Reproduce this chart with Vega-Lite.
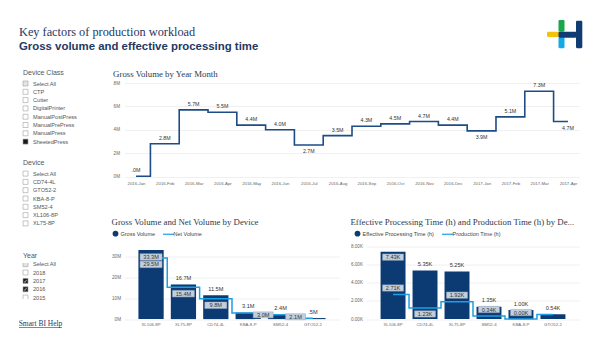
{
  "$schema": "https://vega.github.io/schema/vega-lite/v6.json",
  "background": "white",
  "padding": {"left": 18, "top": 20, "right": 0, "bottom": 0},
  "autosize": {"type": "pad"},
  "bounds": "flush",
  "spacing": 105.5,
  "config": {
    "view": {"stroke": null},
    "font": "Liberation Sans",
    "axis": {"domain": false, "ticks": false, "labelFont": "Liberation Sans", "labelColor": "#666", "gridColor": "#ececec", "gridWidth": 0.8},
    "axisX": {"labelAngle": 0, "grid": false},
    "title": {"anchor": "start", "font": "Liberation Serif", "fontSize": 8.8, "fontWeight": "normal", "color": "#2d3b4e", "frame": "bounds", "offset": 0}
  },
  "hconcat": [
    {
      "bounds": "flush",
      "spacing": 55.35,
      "vconcat": [
        {
          "width": 1, "height": 4,
          "data": {"values": []},
          "mark": "point",
          "title": {"text": "Key factors of production workload", "subtitle": "Gross volume and effective processing time", "orient": "bottom", "anchor": "start", "offset": 2, "font": "Liberation Serif", "fontSize": 12.3, "fontWeight": "normal", "color": "#1f3864", "subtitleFont": "Liberation Sans", "subtitleFontSize": 11.4, "subtitleFontWeight": "bold", "subtitleColor": "#1f3864", "subtitlePadding": 2.5}
        },
        {
          "bounds": "flush",
          "spacing": 23.1,
          "vconcat": [
            {
              "width": 13, "height": {"step": 8.3},
              "title": {"text": "Device Class", "anchor": "start", "dx": 4, "offset": 3, "font": "Liberation Sans", "fontSize": 7, "color": "#555"},
              "data": {"values": [
                {"item": "Select All", "state": "partial"},
                {"item": "CTP", "state": "none"},
                {"item": "Cutter", "state": "none"},
                {"item": "DigitalPrinter", "state": "none"},
                {"item": "ManualPostPress", "state": "none"},
                {"item": "ManualPrePress", "state": "none"},
                {"item": "ManualPress", "state": "none"},
                {"item": "SheetedPress", "state": "checked"}
              ]},
              "encoding": {"y": {"field": "item", "type": "nominal", "sort": null, "axis": null}},
              "layer": [
                {"mark": {"type": "point", "shape": "square", "size": 25, "filled": true, "stroke": "#a0a0a0", "strokeWidth": 0.6, "opacity": 1},
                 "encoding": {"fill": {"field": "state", "type": "nominal", "scale": {"domain": ["checked", "partial", "none"], "range": ["#1a1a1a", "#e4e4e4", "#ffffff"]}, "legend": null}}},
                {"mark": {"type": "text", "align": "left", "dx": 7.5, "fontSize": 5.6, "color": "#555", "font": "Liberation Sans"},
                 "encoding": {"text": {"field": "item"}}}
              ]
            },
            {
              "bounds": "flush",
              "spacing": 34.45,
              "vconcat": [
                {
                  "width": 13, "height": {"step": 8.3},
                  "title": {"text": "Device", "anchor": "start", "dx": 4, "offset": 3, "font": "Liberation Sans", "fontSize": 7, "color": "#555"},
                  "data": {"values": [
                    {"item": "Select All", "state": "none"},
                    {"item": "CD74-4L", "state": "none"},
                    {"item": "GTO52-2", "state": "none"},
                    {"item": "KBA-8-P", "state": "none"},
                    {"item": "SM52-4", "state": "none"},
                    {"item": "XL106-8P", "state": "none"},
                    {"item": "XL75-8P", "state": "none"}
                  ]},
                  "encoding": {"y": {"field": "item", "type": "nominal", "sort": null, "axis": null}},
                  "layer": [
                    {"mark": {"type": "point", "shape": "square", "size": 25, "filled": true, "stroke": "#a0a0a0", "strokeWidth": 0.6, "opacity": 1},
                     "encoding": {"fill": {"field": "state", "type": "nominal", "scale": {"domain": ["checked", "partial", "none"], "range": ["#1a1a1a", "#e4e4e4", "#ffffff"]}, "legend": null}}},
                    {"mark": {"type": "text", "align": "left", "dx": 7.5, "fontSize": 5.6, "color": "#555", "font": "Liberation Sans"},
                     "encoding": {"text": {"field": "item"}}}
                  ]
                },
                {
                  "bounds": "flush",
                  "spacing": 20.6,
                  "vconcat": [
                    {
                      "width": 13, "height": 36,
                      "title": {"text": "Year", "anchor": "start", "dx": 4, "offset": 3, "font": "Liberation Sans", "fontSize": 7, "color": "#555"},
                      "data": {"values": [
                        {"item": "Select All", "state": "partial"},
                        {"item": "2018", "state": "none"},
                        {"item": "2017", "state": "checked"},
                        {"item": "2016", "state": "checked"},
                        {"item": "2015", "state": "none"}
                      ]},
                      "encoding": {"y": {"field": "item", "type": "nominal", "sort": null, "axis": null, "scale": {"padding": 0.15}}},
                      "layer": [
                        {"mark": {"type": "point", "shape": "square", "size": 25, "filled": true, "stroke": "#a0a0a0", "strokeWidth": 0.6, "opacity": 1, "clip": true},
                         "encoding": {"fill": {"field": "state", "type": "nominal", "scale": {"domain": ["checked", "partial", "none"], "range": ["#1a1a1a", "#e4e4e4", "#ffffff"]}, "legend": null}}},
                        {"transform": [{"filter": "datum.state === 'checked'"}],
                         "mark": {"type": "text", "text": "✓", "color": "white", "fontSize": 5, "font": "DejaVu Sans", "fontWeight": "bold"}},
                        {"mark": {"type": "text", "align": "left", "dx": 7.5, "fontSize": 5.6, "color": "#555", "font": "Liberation Sans"},
                         "encoding": {"text": {"field": "item"}}}
                      ]
                    },
                    {
                      "width": 43, "height": 8,
                      "data": {"values": [{"link": "Smart BI Help"}]},
                      "layer": [
                        {"mark": {"type": "text", "font": "Liberation Serif", "fontSize": 7.5, "color": "#1f3864"},
                         "encoding": {"text": {"field": "link"}}},
                        {"mark": {"type": "rule", "color": "#1f3864", "strokeWidth": 0.6},
                         "encoding": {"y": {"datum": 0, "type": "quantitative", "scale": {"domain": [0, 1]}, "axis": null}}}
                      ]
                    }
                  ]
                }
              ]
            }
          ]
        }
      ]
    },
    {
      "bounds": "flush",
      "spacing": 63,
      "vconcat": [
        {
          "bounds": "flush",
          "spacing": 5,
          "hconcat": [
            {"width": 417, "height": 28.3, "data": {"values": []}, "mark": "point"},
            {
              "width": 36, "height": 28.3,
              "data": {"values": [
                {"part": "yellow", "x0": 0.5, "x1": 13, "y0": 11.7, "y1": 17},
                {"part": "green", "x0": 12, "x1": 18, "y0": 0, "y1": 11.7},
                {"part": "sky", "x0": 12, "x1": 18, "y0": 17, "y1": 28.3},
                {"part": "navy", "x0": 12, "x1": 30, "y0": 11.7, "y1": 17.7},
                {"part": "navy", "x0": 29.5, "x1": 35.8, "y0": 0.7, "y1": 28.3}
              ]},
              "mark": {"type": "rect", "cornerRadius": 1.2},
              "encoding": {
                "x": {"field": "x0", "type": "quantitative", "scale": {"domain": [0, 36]}, "axis": null},
                "x2": {"field": "x1"},
                "y": {"field": "y0", "type": "quantitative", "scale": {"domain": [0, 28.3], "reverse": true}, "axis": null},
                "y2": {"field": "y1"},
                "color": {"field": "part", "type": "nominal", "scale": {"domain": ["yellow", "green", "sky", "navy"], "range": ["#f4c20d", "#1aa64a", "#16a9e6", "#0f3d73"]}, "legend": null}
              }
            }
          ]
        },
        {
          "bounds": "flush",
          "spacing": 69.5,
          "vconcat": [
            {
              "width": 455, "height": 93.5,
              "title": {"text": "Gross Volume by Year Month", "offset": 1},
              "data": {"values": [
                {"month": "2016-Jan", "gross_volume_m": 0.02},
                {"month": "2016-Feb", "gross_volume_m": 2.8},
                {"month": "2016-Mar", "gross_volume_m": 5.7},
                {"month": "2016-Apr", "gross_volume_m": 5.5},
                {"month": "2016-May", "gross_volume_m": 4.4},
                {"month": "2016-Jun", "gross_volume_m": 4.0},
                {"month": "2016-Jul", "gross_volume_m": 2.7},
                {"month": "2016-Aug", "gross_volume_m": 3.5},
                {"month": "2016-Sep", "gross_volume_m": 4.3},
                {"month": "2016-Oct", "gross_volume_m": 4.5},
                {"month": "2016-Nov", "gross_volume_m": 4.7},
                {"month": "2016-Dec", "gross_volume_m": 4.4},
                {"month": "2017-Jan", "gross_volume_m": 3.9},
                {"month": "2017-Feb", "gross_volume_m": 5.1},
                {"month": "2017-Mar", "gross_volume_m": 7.3},
                {"month": "2017-Apr", "gross_volume_m": 4.7}
              ]},
              "transform": [
                {"calculate": "(datum.gross_volume_m < 1 ? replace(format(datum.gross_volume_m, '.1f'), '0.', '.') : format(datum.gross_volume_m, '.1f')) + 'M'", "as": "label"}
              ],
              "encoding": {
                "x": {"field": "month", "type": "ordinal", "sort": null, "scale": {"type": "point", "padding": 0.4}, "axis": {"labelFontSize": 4.3, "labelPadding": 5, "title": null}},
                "y": {"field": "gross_volume_m", "type": "quantitative", "scale": {"domain": [0, 8]}, "axis": {"values": [0, 2, 4, 6, 8], "labelExpr": "datum.value + 'M'", "grid": true, "title": null, "labelFontSize": 4.6, "labelPadding": 5}}
              },
              "layer": [
                {"mark": {"type": "line", "interpolate": "step", "color": "#1d4c86", "strokeWidth": 1.6}},
                {"transform": [{"filter": "indexof(['2016-Jul', '2017-Jan', '2017-Apr'], datum.month) < 0"}],
                 "mark": {"type": "text", "dy": -6, "fontSize": 5.3, "color": "#333", "font": "Liberation Sans"},
                 "encoding": {"text": {"field": "label"}}},
                {"transform": [{"filter": "indexof(['2016-Jul', '2017-Jan', '2017-Apr'], datum.month) >= 0"}],
                 "mark": {"type": "text", "dy": 6.5, "fontSize": 5.3, "color": "#333", "font": "Liberation Sans"},
                 "encoding": {"text": {"field": "label"}}}
              ]
            },
            {
              "bounds": "flush",
              "spacing": 27,
              "resolve": {"scale": {"color": "independent"}},
              "hconcat": [
                {
                  "width": 215, "height": 72.6,
                  "title": {"text": "Gross Volume and Net Volume by Device", "offset": 4},
                  "data": {"values": [
                    {"device": "XL106-8P", "gross_volume_m": 33.3, "net_volume_m": 29.5},
                    {"device": "XL75-8P", "gross_volume_m": 16.7, "net_volume_m": 15.4},
                    {"device": "CD74-4L", "gross_volume_m": 11.5, "net_volume_m": 9.8},
                    {"device": "KBA-8-P", "gross_volume_m": 3.1, "net_volume_m": 3.0},
                    {"device": "SM52-4", "gross_volume_m": 2.4, "net_volume_m": 2.1},
                    {"device": "GTO52-2", "gross_volume_m": 0.5, "net_volume_m": 0.45}
                  ]},
                  "transform": [
                    {"calculate": "(datum.gross_volume_m < 1 ? replace(format(datum.gross_volume_m, '.1f'), '0.', '.') : format(datum.gross_volume_m, '.1f')) + 'M'", "as": "gross_label"},
                    {"calculate": "format(datum.net_volume_m, '.1f') + 'M'", "as": "net_label"}
                  ],
                  "encoding": {
                    "x": {"field": "device", "type": "nominal", "sort": null, "scale": {"paddingInner": 0.22, "paddingOuter": 0.43}, "axis": {"labelFontSize": 4.3, "labelPadding": 3.5, "title": null}}
                  },
                  "layer": [
                    {"mark": {"type": "bar"},
                     "encoding": {
                       "y": {"field": "gross_volume_m", "type": "quantitative", "scale": {"domain": [0, 35]}, "title": null, "axis": {"values": [0, 10, 20, 30], "labelExpr": "datum.value + 'M'", "grid": true, "title": null, "labelFontSize": 4.6, "labelPadding": 4}},
                       "color": {"datum": "Gross Volume", "type": "nominal", "scale": {"domain": ["Gross Volume", "Net Volume"], "range": ["#0c3a73", "#1c9fe3"]},
                         "legend": {"title": null, "orient": "none", "legendX": -12, "legendY": -16, "direction": "horizontal", "labelFontSize": 5.5, "labelColor": "#444", "labelFont": "Liberation Sans", "symbolSize": 121, "labelOffset": 2, "columnPadding": 5, "padding": 0,
                           "encode": {"symbols": {"update": {
                             "shape": {"signal": "datum.value === 'Net Volume' ? 'stroke' : 'circle'"},
                             "size": {"signal": "datum.value === 'Net Volume' ? 121 : 22"},
                             "fill": {"signal": "datum.value === 'Net Volume' ? 'transparent' : '#0c3a73'"},
                             "stroke": {"signal": "datum.value === 'Net Volume' ? '#1c9fe3' : 'transparent'"},
                             "strokeWidth": {"value": 1.2}
                           }}}}}
                     }},
                    {"mark": {"type": "line", "interpolate": "step", "strokeWidth": 1.5},
                     "encoding": {"y": {"field": "net_volume_m", "type": "quantitative", "title": null, "axis": {"values": [0, 10, 20, 30], "labelExpr": "datum.value + 'M'", "grid": true, "title": null, "labelFontSize": 4.6, "labelPadding": 4}}, "color": {"datum": "Net Volume", "type": "nominal"}}},
                    {"transform": [{"filter": "datum.device !== 'XL106-8P'"}],
                     "mark": {"type": "text", "dy": -6.5, "fontSize": 5.6, "color": "#333", "font": "Liberation Sans"},
                     "encoding": {"y": {"field": "gross_volume_m", "type": "quantitative", "title": null, "axis": {"values": [0, 10, 20, 30], "labelExpr": "datum.value + 'M'", "grid": true, "title": null, "labelFontSize": 4.6, "labelPadding": 4}}, "text": {"field": "gross_label"}}},
                    {"transform": [{"filter": "datum.device === 'XL106-8P'"}],
                     "mark": {"type": "point", "shape": "M-1,-0.3H1V0.3H-1Z", "size": 484, "filled": true, "fill": "#c3cfdd", "stroke": "#8fa3bb", "strokeWidth": 0.5, "opacity": 1, "yOffset": 7},
                     "encoding": {"y": {"field": "gross_volume_m", "type": "quantitative", "title": null, "axis": {"values": [0, 10, 20, 30], "labelExpr": "datum.value + 'M'", "grid": true, "title": null, "labelFontSize": 4.6, "labelPadding": 4}}}},
                    {"transform": [{"filter": "datum.device === 'XL106-8P'"}],
                     "mark": {"type": "text", "dy": 7, "fontSize": 5.6, "color": "#333", "font": "Liberation Sans"},
                     "encoding": {"y": {"field": "gross_volume_m", "type": "quantitative", "title": null, "axis": {"values": [0, 10, 20, 30], "labelExpr": "datum.value + 'M'", "grid": true, "title": null, "labelFontSize": 4.6, "labelPadding": 4}}, "text": {"field": "gross_label"}}},
                    {"transform": [{"filter": "datum.net_volume_m >= 5"}],
                     "mark": {"type": "point", "shape": "M-1,-0.3H1V0.3H-1Z", "size": 484, "filled": true, "fill": "#c3cfdd", "stroke": "#8fa3bb", "strokeWidth": 0.5, "opacity": 1, "yOffset": 6.5},
                     "encoding": {"y": {"field": "net_volume_m", "type": "quantitative", "title": null, "axis": {"values": [0, 10, 20, 30], "labelExpr": "datum.value + 'M'", "grid": true, "title": null, "labelFontSize": 4.6, "labelPadding": 4}}}},
                    {"transform": [{"filter": "datum.net_volume_m >= 5"}],
                     "mark": {"type": "text", "dy": 6.5, "fontSize": 5.6, "color": "#333", "font": "Liberation Sans"},
                     "encoding": {"y": {"field": "net_volume_m", "type": "quantitative", "title": null, "axis": {"values": [0, 10, 20, 30], "labelExpr": "datum.value + 'M'", "grid": true, "title": null, "labelFontSize": 4.6, "labelPadding": 4}}, "text": {"field": "net_label"}}},
                    {"transform": [{"filter": "datum.net_volume_m >= 1 && datum.net_volume_m < 5"}],
                     "mark": {"type": "point", "shape": "M-1,-0.3H1V0.3H-1Z", "size": 400, "filled": true, "fill": "#c3cfdd", "stroke": "#8fa3bb", "strokeWidth": 0.5, "opacity": 1, "yOffset": 2, "xOffset": 15},
                     "encoding": {"y": {"field": "net_volume_m", "type": "quantitative", "title": null, "axis": {"values": [0, 10, 20, 30], "labelExpr": "datum.value + 'M'", "grid": true, "title": null, "labelFontSize": 4.6, "labelPadding": 4}}}},
                    {"transform": [{"filter": "datum.net_volume_m >= 1 && datum.net_volume_m < 5"}],
                     "mark": {"type": "text", "dy": 2, "dx": 15, "fontSize": 5.6, "color": "#333", "font": "Liberation Sans"},
                     "encoding": {"y": {"field": "net_volume_m", "type": "quantitative", "title": null, "axis": {"values": [0, 10, 20, 30], "labelExpr": "datum.value + 'M'", "grid": true, "title": null, "labelFontSize": 4.6, "labelPadding": 4}}, "text": {"field": "net_label"}}}
                  ]
                },
                {
                  "width": 213, "height": 72.6,
                  "title": {"text": "Effective Processing Time (h) and Production Time (h) by De...", "offset": 4},
                  "data": {"values": [
                    {"device": "XL106-8P", "effective_processing_time_kh": 7.43, "production_time_kh": 2.71},
                    {"device": "CD74-4L", "effective_processing_time_kh": 5.35, "production_time_kh": 1.23},
                    {"device": "XL75-8P", "effective_processing_time_kh": 5.25, "production_time_kh": 1.92},
                    {"device": "SM52-4", "effective_processing_time_kh": 1.35, "production_time_kh": 0.34},
                    {"device": "KBA-8-P", "effective_processing_time_kh": 1.00, "production_time_kh": 0.00},
                    {"device": "GTO52-2", "effective_processing_time_kh": 0.54, "production_time_kh": 0.50}
                  ]},
                  "transform": [
                    {"calculate": "format(datum.effective_processing_time_kh, '.2f') + 'K'", "as": "eff_label"},
                    {"calculate": "format(datum.production_time_kh, '.2f') + 'K'", "as": "prod_label"}
                  ],
                  "encoding": {
                    "x": {"field": "device", "type": "nominal", "sort": null, "scale": {"paddingInner": 0.22, "paddingOuter": 0.44}, "axis": {"labelFontSize": 4.3, "labelPadding": 3.5, "title": null}}
                  },
                  "layer": [
                    {"mark": {"type": "bar"},
                     "encoding": {
                       "y": {"field": "effective_processing_time_kh", "type": "quantitative", "scale": {"domain": [0, 8]}, "title": null, "axis": {"values": [0, 2, 4, 6, 8], "labelExpr": "format(datum.value, '.2f') + 'K'", "grid": true, "title": null, "labelFontSize": 4.6, "labelPadding": 4}},
                       "color": {"datum": "Effective Processing Time (h)", "type": "nominal", "scale": {"domain": ["Effective Processing Time (h)", "Production Time (h)"], "range": ["#0c3a73", "#1c9fe3"]},
                         "legend": {"title": null, "orient": "none", "legendX": -12, "legendY": -16, "direction": "horizontal", "labelFontSize": 5.5, "labelColor": "#444", "labelFont": "Liberation Sans", "symbolSize": 121, "labelOffset": 2, "columnPadding": 5, "padding": 0,
                           "encode": {"symbols": {"update": {
                             "shape": {"signal": "datum.value === 'Production Time (h)' ? 'stroke' : 'circle'"},
                             "size": {"signal": "datum.value === 'Production Time (h)' ? 121 : 22"},
                             "fill": {"signal": "datum.value === 'Production Time (h)' ? 'transparent' : '#0c3a73'"},
                             "stroke": {"signal": "datum.value === 'Production Time (h)' ? '#1c9fe3' : 'transparent'"},
                             "strokeWidth": {"value": 1.2}
                           }}}}}
                     }},
                    {"mark": {"type": "line", "interpolate": "step", "strokeWidth": 1.5},
                     "encoding": {"y": {"field": "production_time_kh", "type": "quantitative", "title": null, "axis": {"values": [0, 2, 4, 6, 8], "labelExpr": "format(datum.value, '.2f') + 'K'", "grid": true, "title": null, "labelFontSize": 4.6, "labelPadding": 4}}, "color": {"datum": "Production Time (h)", "type": "nominal"}}},
                    {"transform": [{"filter": "datum.device !== 'XL106-8P'"}],
                     "mark": {"type": "text", "dy": -6.5, "fontSize": 5.6, "color": "#333", "font": "Liberation Sans"},
                     "encoding": {"y": {"field": "effective_processing_time_kh", "type": "quantitative", "title": null, "axis": {"values": [0, 2, 4, 6, 8], "labelExpr": "format(datum.value, '.2f') + 'K'", "grid": true, "title": null, "labelFontSize": 4.6, "labelPadding": 4}}, "text": {"field": "eff_label"}}},
                    {"transform": [{"filter": "datum.device === 'XL106-8P'"}],
                     "mark": {"type": "point", "shape": "M-1,-0.3H1V0.3H-1Z", "size": 441, "filled": true, "fill": "#c3cfdd", "stroke": "#8fa3bb", "strokeWidth": 0.5, "opacity": 1, "yOffset": 5.5},
                     "encoding": {"y": {"field": "effective_processing_time_kh", "type": "quantitative", "title": null, "axis": {"values": [0, 2, 4, 6, 8], "labelExpr": "format(datum.value, '.2f') + 'K'", "grid": true, "title": null, "labelFontSize": 4.6, "labelPadding": 4}}}},
                    {"transform": [{"filter": "datum.device === 'XL106-8P'"}],
                     "mark": {"type": "text", "dy": 5.5, "fontSize": 5.6, "color": "#333", "font": "Liberation Sans"},
                     "encoding": {"y": {"field": "effective_processing_time_kh", "type": "quantitative", "title": null, "axis": {"values": [0, 2, 4, 6, 8], "labelExpr": "format(datum.value, '.2f') + 'K'", "grid": true, "title": null, "labelFontSize": 4.6, "labelPadding": 4}}, "text": {"field": "eff_label"}}},
                    {"transform": [{"filter": "indexof(['CD74-4L', 'GTO52-2'], datum.device) < 0"}],
                     "mark": {"type": "point", "shape": "M-1,-0.3H1V0.3H-1Z", "size": 441, "filled": true, "fill": "#c3cfdd", "stroke": "#8fa3bb", "strokeWidth": 0.5, "opacity": 1, "yOffset": -6.5},
                     "encoding": {"y": {"field": "production_time_kh", "type": "quantitative", "title": null, "axis": {"values": [0, 2, 4, 6, 8], "labelExpr": "format(datum.value, '.2f') + 'K'", "grid": true, "title": null, "labelFontSize": 4.6, "labelPadding": 4}}}},
                    {"transform": [{"filter": "indexof(['CD74-4L', 'GTO52-2'], datum.device) < 0"}],
                     "mark": {"type": "text", "dy": -6.5, "fontSize": 5.6, "color": "#333", "font": "Liberation Sans"},
                     "encoding": {"y": {"field": "production_time_kh", "type": "quantitative", "title": null, "axis": {"values": [0, 2, 4, 6, 8], "labelExpr": "format(datum.value, '.2f') + 'K'", "grid": true, "title": null, "labelFontSize": 4.6, "labelPadding": 4}}, "text": {"field": "prod_label"}}},
                    {"transform": [{"filter": "datum.device === 'CD74-4L'"}],
                     "mark": {"type": "point", "shape": "M-1,-0.3H1V0.3H-1Z", "size": 441, "filled": true, "fill": "#c3cfdd", "stroke": "#8fa3bb", "strokeWidth": 0.5, "opacity": 1, "yOffset": 6},
                     "encoding": {"y": {"field": "production_time_kh", "type": "quantitative", "title": null, "axis": {"values": [0, 2, 4, 6, 8], "labelExpr": "format(datum.value, '.2f') + 'K'", "grid": true, "title": null, "labelFontSize": 4.6, "labelPadding": 4}}}},
                    {"transform": [{"filter": "datum.device === 'CD74-4L'"}],
                     "mark": {"type": "text", "dy": 6, "fontSize": 5.6, "color": "#333", "font": "Liberation Sans"},
                     "encoding": {"y": {"field": "production_time_kh", "type": "quantitative", "title": null, "axis": {"values": [0, 2, 4, 6, 8], "labelExpr": "format(datum.value, '.2f') + 'K'", "grid": true, "title": null, "labelFontSize": 4.6, "labelPadding": 4}}, "text": {"field": "prod_label"}}}
                  ]
                }
              ]
            }
          ]
        }
      ]
    }
  ]
}
